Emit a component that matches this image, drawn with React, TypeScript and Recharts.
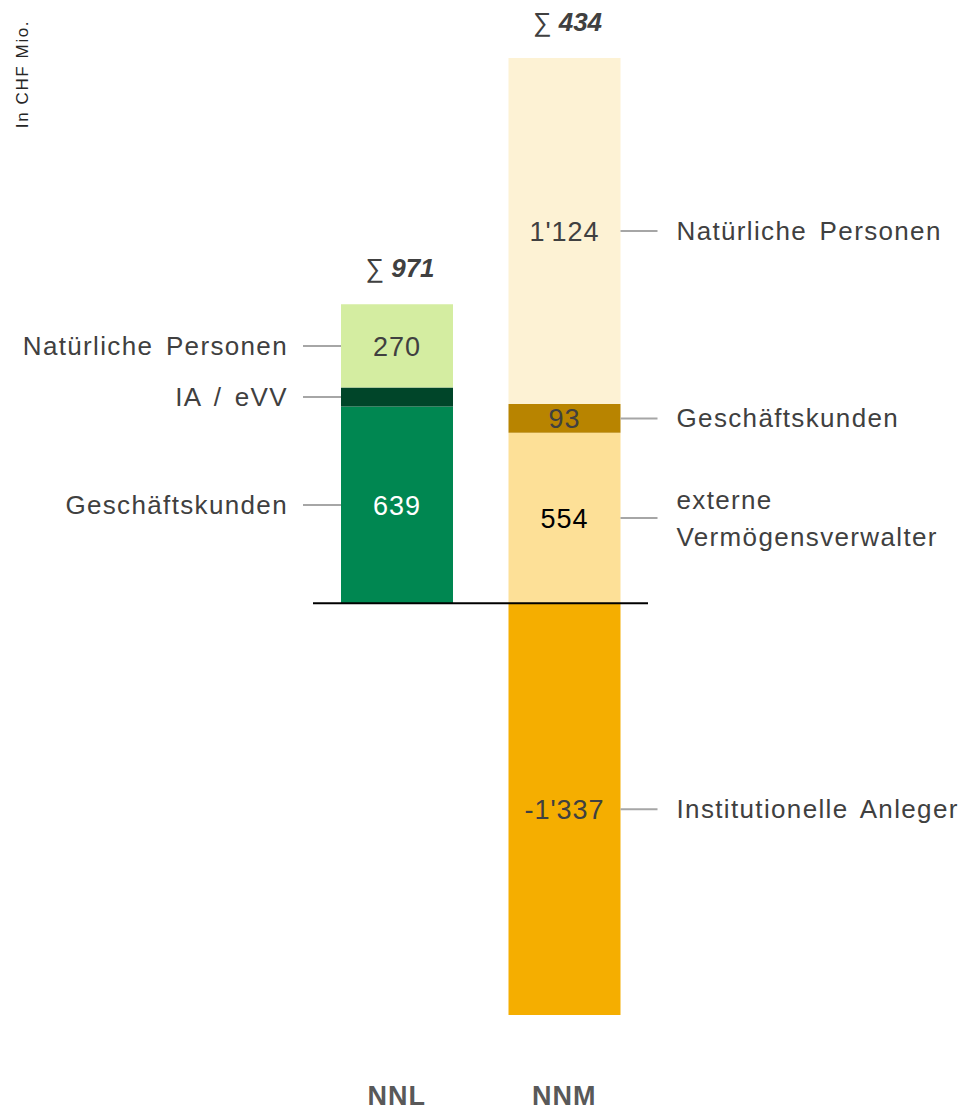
import { BarChart, Bar, XAxis, YAxis, LabelList, ReferenceLine } from "recharts";

// In CHF Mio.
const categories = ["NNL", "NNM"];
const totals = [971, 434];

// NNL stack, bottom to top
const nnlNames = ["Geschäftskunden", "IA / eVV", "Natürliche Personen"];
const nnlValues = [639, 62, 270];
const nnlShowValue = [true, false, true];

// NNM stack, bottom to top (negative part last)
const nnmNames = ["externe\nVermögensverwalter", "Geschäftskunden", "Natürliche Personen", "Institutionelle Anleger"];
const nnmValues = [554, 93, 1124, -1337];

const nnlColors = ["#008751", "#004529", "#d4eda1"];
const nnlTextColors = ["#ffffff", "#ffffff", "#404040"];
const nnmColors = ["#fde097", "#b88400", "#fdf2d4", "#f5ae00"];
const nnmTextColors = ["#000000", "#404040", "#404040", "#404040"];

const FONT = "'Liberation Sans', Arial, sans-serif";
const GREY = "#404040";

const data = categories.map((name, i) => {
  const row: Record<string, any> = { name };
  nnlValues.forEach((v, j) => (row[`nnl${j}`] = i === 0 ? v : null));
  nnmValues.forEach((v, j) => (row[`nnm${j}`] = i === 1 ? v : null));
  return row;
});

const fmt = (v: number) => {
  const s = Math.abs(v).toString().replace(/\B(?=(\d{3})+(?!\d))/g, "'");
  return v < 0 ? "-" + s : s;
};

// null entries give a bar of no height: skip them
const isReal = (p: any) => {
  const h = Number(p.height);
  const v = Array.isArray(p.value) ? p.value[1] - p.value[0] : p.value;
  return !isNaN(h) && h !== 0 && v != null;
};

const segmentLabel =
  (value: number, name: string, side: "left" | "right", color: string, showValue: boolean) =>
  (p: any) => {
    if (!isReal(p)) return null;
    const x = Number(p.x);
    const y = Number(p.y);
    const w = Number(p.width);
    const h = Number(p.height);
    const cy = y + h / 2;
    const lines = name.split("\n");
    const lineH = 37;
    const lx1 = side === "left" ? x - 38 : x + w;
    const lx2 = side === "left" ? x : x + w + 37;
    const tx = side === "left" ? x - 53 : x + w + 56;
    const firstY = cy - ((lines.length - 1) * lineH) / 2 + 9;
    return (
      <g>
        {showValue && (
          <text x={x + w / 2} y={cy + 10} textAnchor="middle" fontSize={27} letterSpacing={1}
            fontFamily={FONT} fill={color}>
            {fmt(value)}
          </text>
        )}
        <line x1={lx1} x2={lx2} y1={cy} y2={cy} stroke="#a6a6a6" strokeWidth={2} />
        <text x={tx} y={firstY} textAnchor={side === "left" ? "end" : "start"} fontSize={26}
          letterSpacing={1.35} wordSpacing={4} fontFamily={FONT} fill={GREY}>
          {lines.map((l, k) => (
            <tspan key={k} x={tx} y={firstY + k * lineH}>{l}</tspan>
          ))}
        </text>
      </g>
    );
  };

const sumLabel = (total: number) => (p: any) => {
  if (!isReal(p)) return null;
  const cx = Number(p.x) + Number(p.width) / 2;
  const top = Math.min(Number(p.y), Number(p.y) + Number(p.height));
  return (
    <text x={cx + 3} y={top - 27} textAnchor="middle" fontSize={26} fontFamily={FONT} fill={GREY}>
      <tspan>∑ </tspan>
      <tspan fontWeight="bold" fontStyle="italic">{total}</tspan>
    </text>
  );
};

const CategoryTick = (p: any) => (
  <text x={p.x} y={p.y + 78} textAnchor="middle" fontSize={27} fontWeight="bold" letterSpacing={1}
    fontFamily={FONT} fill="#595959">
    {p.payload.value}
  </text>
);

export default function App() {
  return (
    <div style={{ position: "absolute", left: 0, top: 0, width: 961, height: 1113, background: "#fff" }}>
      <BarChart width={961} height={1113} data={data} stackOffset="sign" barSize={112}
        margin={{ top: 58, right: 313, left: 313, bottom: 0 }}>
        <XAxis dataKey="name" axisLine={false} tickLine={false} height={94} tick={<CategoryTick />} interval={0} />
        <YAxis hide domain={[-1350, 1771]} />
        {nnlValues.map((v, j) => (
          <Bar key={`nnl${j}`} dataKey={`nnl${j}`} stackId="s" fill={nnlColors[j]} isAnimationActive={false}>
            <LabelList dataKey={`nnl${j}`}
              content={segmentLabel(v, nnlNames[j], "left", nnlTextColors[j], nnlShowValue[j])} />
            {j === nnlValues.length - 1 && <LabelList dataKey={`nnl${j}`} content={sumLabel(totals[0])} />}
          </Bar>
        ))}
        {nnmValues.map((v, j) => (
          <Bar key={`nnm${j}`} dataKey={`nnm${j}`} stackId="s" fill={nnmColors[j]} isAnimationActive={false}>
            <LabelList dataKey={`nnm${j}`}
              content={segmentLabel(v, nnmNames[j], "right", nnmTextColors[j], true)} />
            {j === 2 && <LabelList dataKey={`nnm${j}`} content={sumLabel(totals[1])} />}
          </Bar>
        ))}
        <ReferenceLine y={0} stroke="#000" strokeWidth={2} />
      </BarChart>
      <div style={{ position: "absolute", left: 12, top: 18, width: 22, height: 110 }}>
        <svg width={22} height={112}>
          <text transform="translate(16,56) rotate(-90)" textAnchor="middle" fontSize={17} letterSpacing={1.6}
            fontFamily={FONT} fill="#262626">
            In CHF Mio.
          </text>
        </svg>
      </div>
    </div>
  );
}
